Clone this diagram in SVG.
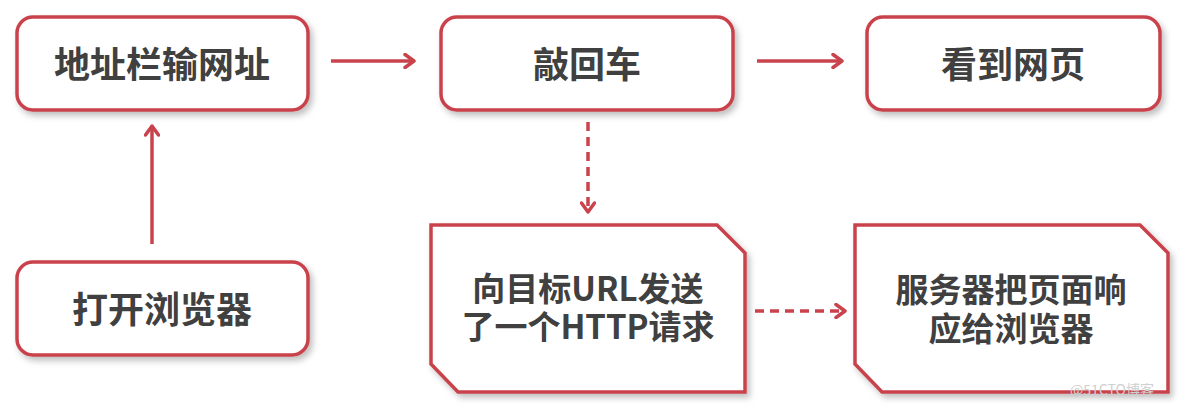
<svg xmlns="http://www.w3.org/2000/svg" width="1200" height="410" viewBox="0 0 1200 410">
<defs>
<filter id="sh" x="-10%" y="-10%" width="125%" height="130%">
<feDropShadow dx="3" dy="4" stdDeviation="3" flood-color="#000" flood-opacity="0.25"/>
</filter>
<marker id="ah" markerWidth="14" markerHeight="16" refX="11" refY="8" orient="auto" markerUnits="userSpaceOnUse">
<path d="M2,1.5 L11,8 L2,14.5" fill="none" stroke="#c9434c" stroke-width="3.5" stroke-linecap="round" stroke-linejoin="round"/>
</marker>
</defs>
<style>
.box{fill:#fff;stroke:#c9434c;stroke-width:3.5;filter:url(#sh)}
.t{font-family:"Noto Sans CJK SC","Noto Sans",sans-serif;font-weight:bold;font-size:36px;fill:#404040;text-anchor:middle}
.t2{font-family:"Noto Sans CJK SC","Noto Sans",sans-serif;font-weight:bold;font-size:33px;fill:#404040;text-anchor:middle}
.c{stroke:#c9434c;stroke-width:3.5;fill:none;marker-end:url(#ah)}
.d{stroke-dasharray:9,6}
</style>
<rect width="1200" height="410" fill="#fff"/>
<g id="n1"><rect class="box" x="17" y="17" width="291" height="93" rx="16"/><text class="t" x="162" y="78">地址栏输网址</text></g>
<g id="n2"><rect class="box" x="441" y="17" width="292" height="93" rx="16"/><text class="t" x="587" y="78">敲回车</text></g>
<g id="n3"><rect class="box" x="867" y="17" width="293" height="93" rx="16"/><text class="t" x="1013" y="78">看到网页</text></g>
<g id="n4"><rect class="box" x="17" y="262" width="291" height="93" rx="16"/><text class="t" x="162" y="323">打开浏览器</text></g>
<g id="n5"><path class="box" d="M431,225 L717,225 L745,253 L745,392 L458,392 L431,364 Z"/><text class="t2" x="588" y="301"><tspan x="588" y="301">向目标URL发送</tspan><tspan x="588" y="339">了一个HTTP请求</tspan></text></g>
<g id="n6"><path class="box" d="M855,225 L1140,225 L1168,253 L1168,392 L882,392 L855,364 Z"/><text class="t2" x="1011" y="302"><tspan x="1011" y="302">服务器把页面响</tspan><tspan x="1011" y="341">应给浏览器</tspan></text></g>
<g id="connectors">
<path class="c" d="M331,61 L414,61"/>
<path class="c" d="M757,61 L842,61"/>
<path class="c" d="M152,244 L152,126"/>
<path class="c d" d="M588,122 L588,212"/>
<path class="c d" d="M755,311 L845,311"/>
</g>
<text x="1112" y="395" font-family="'Noto Sans CJK SC',sans-serif" font-size="14" fill="#d0d0d0" text-anchor="middle">@51CTO博客</text>
</svg>
